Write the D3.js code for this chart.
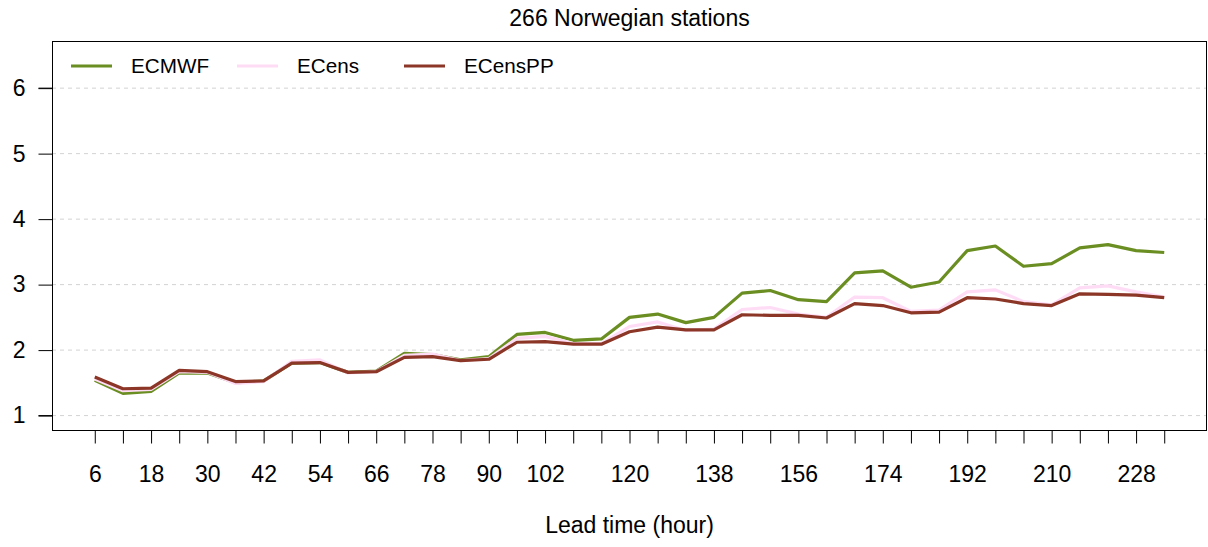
<!DOCTYPE html>
<html>
<head>
<meta charset="utf-8">
<script src="https://cdn.jsdelivr.net/npm/d3@7"></script>
<style>
  html, body { margin: 0; padding: 0; background: #ffffff; }
  svg { display: block; font-family: "Liberation Sans", Arial, Helvetica, sans-serif; }
</style>
</head>
<body>
<svg id="chart" width="1208" height="547"></svg>
<script>
// Lead times (hours)
const leadTimes = [6,12,18,24,30,36,42,48,54,60,66,72,78,84,90,96,102,108,114,120,
                   126,132,138,144,150,156,162,168,174,180,186,192,198,204,210,216,222,228,234];

// Score per lead time for each forecast system
const ecmwf = [1.54,1.34,1.37,1.65,1.65,1.50,1.53,1.80,1.81,1.66,1.68,1.95,1.93,1.85,1.90,2.24,2.27,2.15,2.17,2.50,
               2.55,2.42,2.50,2.87,2.91,2.77,2.74,3.18,3.21,2.96,3.04,3.52,3.59,3.28,3.32,3.56,3.61,3.52,3.49];
const ecens = [1.56,1.38,1.40,1.67,1.66,1.49,1.52,1.83,1.85,1.65,1.67,1.92,1.94,1.84,1.87,2.18,2.21,2.10,2.10,2.36,
               2.43,2.30,2.32,2.62,2.65,2.55,2.50,2.81,2.80,2.59,2.61,2.89,2.92,2.74,2.69,2.95,2.98,2.89,2.81];
const ecensPP = [1.59,1.41,1.42,1.69,1.67,1.52,1.53,1.80,1.81,1.66,1.67,1.89,1.90,1.84,1.86,2.12,2.13,2.09,2.09,2.28,
                 2.35,2.31,2.31,2.54,2.53,2.53,2.49,2.71,2.68,2.57,2.58,2.80,2.78,2.71,2.68,2.86,2.85,2.84,2.80];

const seriesNames = ["ECMWF", "ECens", "ECensPP"];
const seriesColors = ["#6b8e23", "#ffdcf6", "#8b3626"];

const yTicks = [1, 2, 3, 4, 5, 6];
const xTickLabels = [6,18,30,42,54,66,78,90,102,120,138,156,174,192,210,228];

const svg = d3.select("#chart");
const plot = { left: 52, right: 1207, top: 41, bottom: 430 };
const fontFamily = "Liberation Sans, Arial, sans-serif";

// Axis limits padded 4% on each side
const xLim = [6, 234], yLim = [1, 6.5];
const xPad = (xLim[1] - xLim[0]) * 0.04, yPad = (yLim[1] - yLim[0]) * 0.04;
const x = d3.scaleLinear().domain([xLim[0] - xPad, xLim[1] + xPad]).range([plot.left, plot.right]);
const y = d3.scaleLinear().domain([yLim[0] - yPad, yLim[1] + yPad]).range([plot.bottom, plot.top]);

// Horizontal dashed grid
svg.append("g").selectAll("line").data(yTicks).join("line")
  .attr("x1", plot.left).attr("x2", plot.right)
  .attr("y1", d => y(d)).attr("y2", d => y(d))
  .attr("stroke", "#d3d3d3").attr("stroke-width", 1).attr("stroke-dasharray", "4,4");

// Series lines
const line = d3.line().x((d, i) => x(leadTimes[i])).y(d => y(d));
[ecmwf, ecens, ecensPP].forEach((vals, k) => {
  svg.append("path").datum(vals)
    .attr("d", line)
    .attr("fill", "none")
    .attr("stroke", seriesColors[k])
    .attr("stroke-width", 3.2)
    .attr("stroke-linejoin", "round");
});

// Plot frame
svg.append("rect")
  .attr("x", plot.left + 0.5).attr("y", plot.top + 0.5)
  .attr("width", plot.right - plot.left - 1).attr("height", plot.bottom - plot.top)
  .attr("fill", "none").attr("stroke", "#000").attr("stroke-width", 1);

// Y axis
const yAxis = d3.axisLeft(y).tickValues(yTicks).tickSize(14).tickPadding(13).tickFormat(d3.format("d"));
const gy = svg.append("g").attr("transform", `translate(${plot.left + 0.5},0)`).call(yAxis);
gy.select(".domain").attr("d", `M-14,${y(1)}H0V${y(6)}H-14`).attr("stroke", "#000");
gy.selectAll("text").attr("font-size", 23).attr("fill", "#000").attr("font-family", fontFamily);

// X axis: tick at every lead time, labels on a subset
const xAxis = d3.axisBottom(x).tickValues(leadTimes).tickSize(13).tickPadding(22)
  .tickFormat(d => xTickLabels.includes(d) ? d : "");
const gx = svg.append("g").attr("transform", `translate(0,${plot.bottom + 0.5})`).call(xAxis);
gx.select(".domain").attr("d", `M${x(6)},0H${x(234)}`).attr("stroke", "#000");
gx.selectAll("text").attr("font-size", 23).attr("fill", "#000").attr("font-family", fontFamily);

// Title and axis label
svg.append("text").attr("x", (plot.left + plot.right) / 2).attr("y", 26)
  .attr("text-anchor", "middle").attr("font-size", 23).text("266 Norwegian stations");
svg.append("text").attr("x", (plot.left + plot.right) / 2).attr("y", 533)
  .attr("text-anchor", "middle").attr("font-size", 23).text("Lead time (hour)");

// Legend
const legendX = [71, 237, 404];
const legend = svg.append("g");
seriesNames.forEach((name, k) => {
  legend.append("line")
    .attr("x1", legendX[k]).attr("x2", legendX[k] + 41)
    .attr("y1", 66).attr("y2", 66)
    .attr("stroke", seriesColors[k]).attr("stroke-width", 3.2);
  legend.append("text")
    .attr("x", legendX[k] + 60).attr("y", 73)
    .attr("font-size", 20.7).text(name);
});
</script>
</body>
</html>
